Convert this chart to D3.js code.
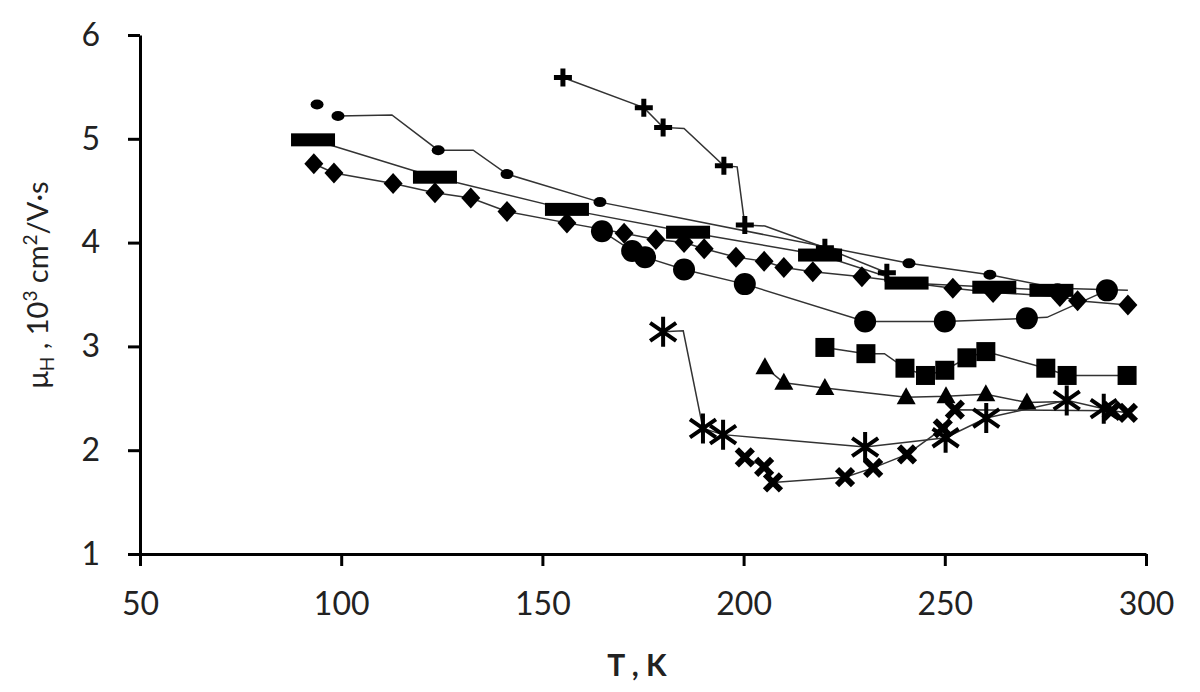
<!DOCTYPE html>
<html>
<head>
<meta charset="utf-8">
<script src="https://cdn.jsdelivr.net/npm/d3@7.9.0/dist/d3.min.js"></script>
<style>
  body { margin: 0; background: #fff; }
  svg { display: block; }
  .axis text { font-family: Lato, "Open Sans", sans-serif; font-size: 32px; fill: #222; }
  .title { font-family: Lato, "Open Sans", sans-serif; fill: #222; }
</style>
</head>
<body>
<div id="chart"></div>
<script>
// T in K, mu in 10^3 cm2/V.s; mark: 1 = marker, 0 = bend in line only, 2 = marker not joined
const xTicks = [50, 100, 150, 200, 250, 300];
const yTicks = [1, 2, 3, 4, 5, 6];

const dotT    = [94, 99.2, 112.6, 124.1, 132.8, 141.2, 164.3, 241.1, 261.2, 278, 295.5];
const dotMu   = [5.33, 5.22, 5.23, 4.89, 4.89, 4.66, 4.39, 3.80, 3.69, 3.56, 3.54];
const dotMark = [2, 1, 0, 1, 0, 1, 1, 1, 1, 1, 0];

const dashT  = [93, 123.3, 156.1, 186.2, 219, 240.5, 262.3, 276.5];
const dashMu = [4.99, 4.63, 4.32, 4.10, 3.88, 3.61, 3.57, 3.54];

const diamondT  = [93.2, 98.2, 112.9, 123.3, 132.2, 141.2, 156.1, 170.3, 178.2, 185.2, 190.2,
                   198.1, 205.1, 210, 217.2, 229.4, 252, 262, 278.6, 283, 295.5];
const diamondMu = [4.76, 4.67, 4.57, 4.48, 4.43, 4.30, 4.19, 4.09, 4.03, 4.00, 3.94,
                   3.86, 3.82, 3.76, 3.72, 3.67, 3.56, 3.52, 3.48, 3.44, 3.40];

const circleT    = [164.8, 172.3, 175.5, 185.2, 200.3, 230.2, 250.0, 270.4, 275.4, 290.3];
const circleMu   = [4.11, 3.92, 3.86, 3.74, 3.60, 3.24, 3.24, 3.27, 3.28, 3.54];
const circleMark = [1, 1, 1, 1, 1, 1, 1, 1, 0, 1];

const plusT    = [155.1, 175.2, 180, 185.2, 195.1, 198.4, 200.3, 205.3, 220.2, 235.6];
const plusMu   = [5.59, 5.30, 5.11, 5.10, 4.74, 4.73, 4.17, 4.16, 3.95, 3.71];
const plusMark = [1, 1, 1, 0, 1, 0, 1, 0, 1, 1];

const squareT    = [220.2, 230.4, 235, 240.1, 245.2, 250, 255.5, 260.2, 275.1, 280.4, 295.3];
const squareMu   = [2.99, 2.93, 2.93, 2.79, 2.72, 2.77, 2.89, 2.95, 2.79, 2.72, 2.72];
const squareMark = [1, 1, 0, 1, 1, 1, 1, 1, 1, 1, 1];

const triT    = [205.3, 210, 220.2, 240.4, 250.3, 260.2, 270.4, 280.3];
const triMu   = [2.80, 2.65, 2.60, 2.51, 2.52, 2.54, 2.46, 2.47];
const triMark = [1, 1, 1, 1, 1, 1, 1, 0];

const starT    = [180, 185, 189.9, 194.9, 230.2, 250.2, 260.3, 280.3, 289.5];
const starMu   = [3.14, 3.15, 2.21, 2.15, 2.03, 2.12, 2.31, 2.48, 2.40];
const starMark = [1, 0, 1, 1, 1, 1, 1, 1, 1];

const crossT  = [200.3, 205.1, 207.3, 225.2, 232.2, 240.6, 249.5, 252.5, 291.5, 295.5];
const crossMu = [1.93, 1.84, 1.69, 1.74, 1.83, 1.96, 2.21, 2.39, 2.38, 2.36];

function pts(t, mu, mark) {
  return t.map((v, i) => ({t: v, mu: mu[i], mark: mark ? mark[i] : 1}));
}

const series = [
  {shape: "dot",     data: pts(dotT, dotMu, dotMark)},
  {shape: "dash",    data: pts(dashT, dashMu)},
  {shape: "diamond", data: pts(diamondT, diamondMu)},
  {shape: "circle",  data: pts(circleT, circleMu, circleMark)},
  {shape: "plus",    data: pts(plusT, plusMu, plusMark)},
  {shape: "square",  data: pts(squareT, squareMu, squareMark)},
  {shape: "tri",     data: pts(triT, triMu, triMark)},
  {shape: "star",    data: pts(starT, starMu, starMark)},
  {shape: "cross",   data: pts(crossT, crossMu)}
];

const W = 1200, H = 692;
const svg = d3.select("#chart").append("svg")
  .attr("width", W).attr("height", H);

const x = d3.scaleLinear().domain([50, 300]).range([140, 1146]);
const y = d3.scaleLinear().domain([1, 6]).range([554, 35]);

// lines first, markers on top
const line = d3.line()
  .defined(d => d.mark !== 2)
  .x(d => x(d.t)).y(d => y(d.mu));

series.forEach(s => {
  svg.append("path")
    .datum(s.data)
    .attr("fill", "none")
    .attr("stroke", "#333")
    .attr("stroke-width", 1.5)
    .attr("d", line);
});

function drawMarker(g, shape) {
  switch (shape) {
    case "dot":
      g.append("ellipse").attr("rx", 6.5).attr("ry", 5);
      break;
    case "dash":
      g.append("rect").attr("x", -22).attr("y", -6.5).attr("width", 44).attr("height", 13);
      break;
    case "diamond":
      g.append("path").attr("d", "M0,-10.5L9.5,0L0,10.5L-9.5,0Z");
      break;
    case "circle":
      g.append("circle").attr("r", 11);
      break;
    case "plus":
      g.append("path").attr("d", "M-9,0H9M0,-9V9")
        .attr("stroke", "#000").attr("stroke-width", 5);
      break;
    case "square":
      g.append("rect").attr("x", -9.5).attr("y", -9.5).attr("width", 19).attr("height", 19);
      break;
    case "tri":
      g.append("path").attr("d", "M0,-10L9.5,7L-9.5,7Z");
      break;
    case "star":
      g.append("path").attr("d", "M0,-15V15M-13,-9L13,9M-13,9L13,-9")
        .attr("stroke", "#000").attr("stroke-width", 4);
      break;
    case "cross":
      g.append("path").attr("d", "M-8,-8L8,8M-8,8L8,-8")
        .attr("stroke", "#000").attr("stroke-width", 6);
      break;
  }
}

series.forEach(s => {
  svg.append("g")
    .selectAll("g")
    .data(s.data.filter(d => d.mark !== 0))
    .join("g")
      .attr("transform", d => `translate(${x(d.t)},${y(d.mu)})`)
      .attr("fill", "#000")
      .each(function() { drawMarker(d3.select(this), s.shape); });
});

// axes
const xAxis = svg.append("g")
  .attr("class", "axis")
  .attr("transform", `translate(0,${y(1)})`)
  .call(d3.axisBottom(x).tickValues(xTicks).tickFormat(d3.format("d"))
    .tickSize(12).tickSizeOuter(0).tickPadding(26));

const yAxis = svg.append("g")
  .attr("class", "axis")
  .attr("transform", `translate(${x(50)},0)`)
  .call(d3.axisLeft(y).tickValues(yTicks).tickFormat(d3.format("d"))
    .tickSize(12).tickSizeOuter(0).tickPadding(28));

[xAxis, yAxis].forEach(a => {
  a.select(".domain").attr("stroke", "#000").attr("stroke-width", 3);
  a.selectAll(".tick line").attr("stroke", "#000").attr("stroke-width", 3);
});

// axis titles
svg.append("text")
  .attr("class", "title")
  .attr("x", 637).attr("y", 676)
  .attr("text-anchor", "middle")
  .attr("font-size", 30)
  .attr("font-weight", "bold")
  .text("T , K");

const yt = svg.append("text")
  .attr("class", "title")
  .attr("transform", "translate(48,285) rotate(-90)")
  .attr("text-anchor", "middle")
  .attr("font-size", 29);
yt.append("tspan").text("μ");
yt.append("tspan").attr("font-size", 19).attr("dy", 6).text("H");
yt.append("tspan").attr("dy", -6).text(" , 10");
yt.append("tspan").attr("font-size", 19).attr("dy", -11).text("3");
yt.append("tspan").attr("dy", 11).text(" cm");
yt.append("tspan").attr("font-size", 19).attr("dy", -11).text("2");
yt.append("tspan").attr("dy", 11).text("/V·s");
</script>
</body>
</html>
